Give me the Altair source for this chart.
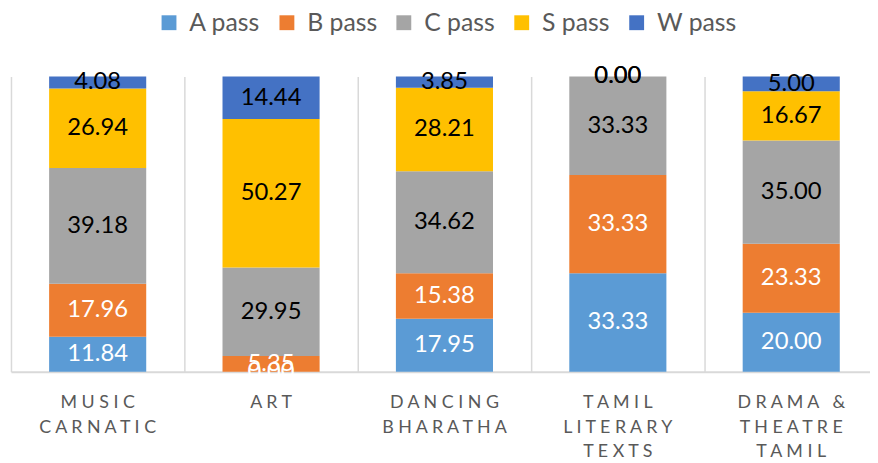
import altair as alt
import pandas as pd

categories = ["MUSIC CARNATIC", "ART", "DANCING BHARATHA", "TAMIL LITERARY TEXTS", "DRAMA & THEATRE TAMIL"]
category_lines = [["MUSIC", "CARNATIC"], ["ART"], ["DANCING", "BHARATHA"],
                  ["TAMIL", "LITERARY", "TEXTS"], ["DRAMA &", "THEATRE", "TAMIL"]]
series = ["A pass", "B pass", "C pass", "S pass", "W pass"]
colors = ["#5B9BD5", "#ED7D31", "#A5A5A5", "#FFC000", "#4472C4"]

a_pass = [11.84, 0.00, 17.95, 33.33, 20.00]
b_pass = [17.96, 5.35, 15.38, 33.33, 23.33]
c_pass = [39.18, 29.95, 34.62, 33.33, 35.00]
s_pass = [26.94, 50.27, 28.21, 0.00, 16.67]
w_pass = [4.08, 14.44, 3.85, 0.00, 5.00]

values = [a_pass, b_pass, c_pass, s_pass, w_pass]

# spaced, multi-line category labels (the original uses letter spacing)
NB = "\u00a0"
labels = ["|".join(NB.join(line.replace(" ", NB)) for line in lines) for lines in category_lines]

rows = []
for si, (s, vals) in enumerate(zip(series, values)):
    for ci, v in enumerate(vals):
        rows.append({"cat": labels[ci], "series": s, "order": si, "value": v})
df = pd.DataFrame(rows)

FONT = "Lato"

base = alt.Chart(df).transform_stack(
    stack="value", groupby=["cat"], as_=["y0", "y1"],
    sort=[alt.SortField("order", order="ascending")], offset="normalize"
).transform_calculate(
    mid="(datum.y0 + datum.y1) / 2",
    tc="datum.series == 'A pass' || datum.series == 'B pass' ? 'white' : 'black'"
)

x_enc = alt.X(
    "cat:N", sort=labels, title=None,
    scale=alt.Scale(range=[0, 875], paddingInner=0, paddingOuter=0),
    axis=alt.Axis(
        bandPosition=0, grid=True, gridColor="#d9d9d9", gridWidth=1.5,
        ticks=False, domain=False, labelAngle=0,
        labelExpr="split(datum.label, '|')", labelFont=FONT, labelFontSize=18,
        labelColor="#595959", labelPadding=22, labelLineHeight=25,
        labelBaseline="top", labelAlign="center", labelLimit=0
    ),
)

bars = base.mark_bar(width=98).encode(
    x=x_enc,
    y=alt.Y("y0:Q", scale=alt.Scale(domain=[0, 1]), title=None,
            axis=alt.Axis(values=[0], grid=True, gridColor="#d9d9d9", gridWidth=2,
                          labels=False, ticks=False, domain=False)),
    y2="y1:Q",
    color=alt.Color("series:N", sort=series,
                    scale=alt.Scale(domain=series, range=colors),
                    legend=alt.Legend(
                        title=None, orient="none", direction="horizontal",
                        legendX=147, legendY=-67, symbolType="square",
                        symbolSize=225, symbolStrokeWidth=0, labelFont=FONT,
                        labelFontSize=25, labelColor="#595959", labelOffset=8,
                        columnPadding=14, padding=0)),
)

text = base.mark_text(font=FONT, fontSize=24).encode(
    x=alt.X("cat:N", sort=labels),
    y=alt.Y("mid:Q"),
    text=alt.Text("value:Q", format=".2f"),
    color=alt.Color("tc:N", scale=None),
)

chart = alt.layer(bars, text).properties(
    width=867, height=298,
    autosize=alt.AutoSizeParams(type="none"),
    padding={"left": 3, "top": 67, "right": 0, "bottom": 90},
).configure_view(stroke=None)

chart.save("out.html", embed_options={"renderer": "svg", "actions": False})
